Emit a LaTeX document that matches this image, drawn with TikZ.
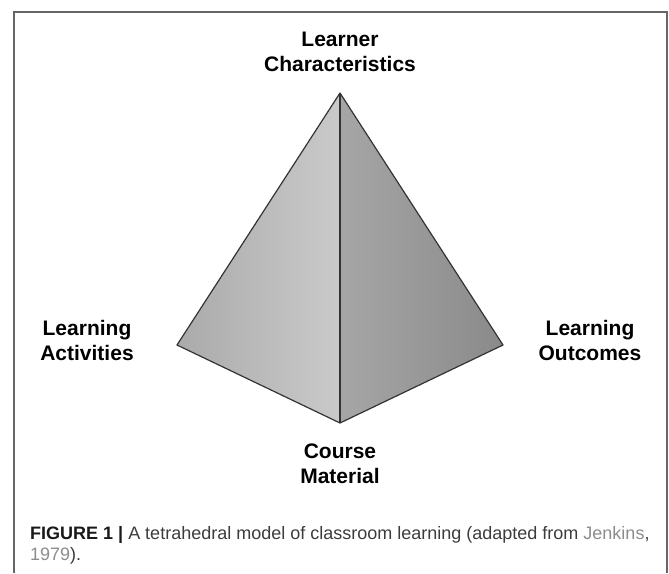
\documentclass[tikz,border=0pt]{standalone}
\usepackage{fontspec}
\setmainfont{Liberation Sans}
\usetikzlibrary{positioning}

\definecolor{capgray}{RGB}{60,60,60}
\definecolor{linkgray}{RGB}{140,140,140}
\definecolor{faceA}{RGB}{170,170,170}
\definecolor{faceB}{RGB}{202,202,202}
\definecolor{faceC}{RGB}{166,166,166}
\definecolor{faceD}{RGB}{138,138,138}

\begin{document}
\begin{tikzpicture}
[x=1pt,y=-1pt,
corner/.style={font=\bfseries\fontsize{21}{25}\selectfont,align=center,inner sep=0pt},
side/.style={draw=black!80,line join=round,line width=1.2pt}]
\useasboundingbox (0,0) rectangle (669,573);
% open frame round the figure
\draw[black!60,line width=1.5pt] (14,573) -- (14,12) -- (667,12) -- (667,573);

\coordinate (top)   at (340,93);
\coordinate (left)  at (177,345);
\coordinate (right) at (503,345);
\coordinate (front) at (340,423);

% the two visible faces
\shade[left color=faceA,right color=faceB] (left) -- (top) -- (front) -- cycle;
\shade[left color=faceC,right color=faceD] (top) -- (right) -- (front) -- cycle;
\draw[side] (left) -- (top) -- (right) -- (front) -- cycle;
\draw[side,line width=2pt] (top) -- (front);

% base anchor sits on the second line
\node[corner,anchor=base] at (340,71.7) (lc) {Learner\\Characteristics};
\node[corner,anchor=base] at (87,360)   (la) {Learning\\Activities};
\node[corner,anchor=base] at (590,360)  (lo) {Learning\\Outcomes};
\node[corner,anchor=base] at (340,483)  (cm) {Course\\Material};

\node[anchor=base west,align=left,inner sep=0pt,text=capgray,
      font=\fontsize{18}{21}\selectfont] at (30,560) (cap)
  {\textbf{\color{black!90}FIGURE 1 |} A tetrahedral model of classroom learning (adapted from \textcolor{linkgray}{Jenkins},\\\textcolor{linkgray}{1979}).};
\end{tikzpicture}
\end{document}
